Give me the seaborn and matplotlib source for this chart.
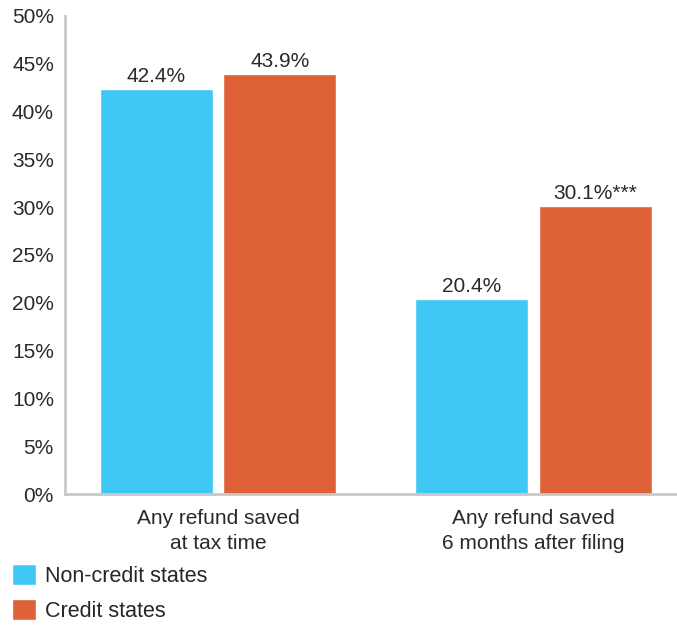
import matplotlib
matplotlib.use("Agg")
import matplotlib.pyplot as plt
import seaborn as sns
import pandas as pd

categories = ["Any refund saved\nat tax time", "Any refund saved\n6 months after filing"]
groups = ["Non-credit states", "Credit states"]
non_credit = [42.4, 20.4]
credit = [43.9, 30.1]
labels_non_credit = ["42.4%", "20.4%"]
labels_credit = ["43.9%", "30.1%***"]
colors = ["#40C8F4", "#DE6137"]

df = pd.DataFrame({
    "category": categories * 2,
    "group": [groups[0]] * 2 + [groups[1]] * 2,
    "value": non_credit + credit,
})

sns.set_style("white")
plt.rcParams["font.family"] = ["Liberation Sans", "DejaVu Sans"]

fig = plt.figure(figsize=(6.77, 6.25), dpi=100)
ax = fig.add_axes([0.096, 0.2096, 0.904, 0.765])

sns.barplot(data=df, x="category", y="value", hue="group", palette=colors,
            width=0.782, gap=0.085, saturation=1, errorbar=None, ax=ax, legend=True)

for cont, labs in zip(ax.containers, [labels_non_credit, labels_credit]):
    ax.bar_label(cont, labels=labs, padding=2, fontsize=15, color="#2a2a2a")

ax.set_ylim(0, 50)
ax.set_xlim(-0.485, 1.455)
ax.set_yticks(range(0, 51, 5))
ax.set_yticklabels([f"{v}%" for v in range(0, 51, 5)], fontsize=15)
ax.set_xticks(range(len(categories)))
ax.set_xticklabels(categories, fontsize=15, linespacing=1.42)
ax.set_xlabel("")
ax.set_ylabel("")
ax.tick_params(axis="both", length=0, colors="#2a2a2a")
ax.tick_params(axis="x", pad=10.5)
ax.tick_params(axis="y", pad=8)

sns.despine(ax=ax, top=True, right=True)
for s in ["left", "bottom"]:
    ax.spines[s].set_color("#C8C8C8")
    ax.spines[s].set_linewidth(2)

handles, lbls = ax.get_legend_handles_labels()
ax.get_legend().remove()
fig.legend(handles, lbls, loc="upper left", bbox_to_anchor=(0.017, 0.097),
           frameon=False, fontsize=15.5, handlelength=1.12, handleheight=1.12,
           handletextpad=0.45, labelspacing=0.55, borderaxespad=0, borderpad=0)

fig.savefig("out.png", dpi=100)
